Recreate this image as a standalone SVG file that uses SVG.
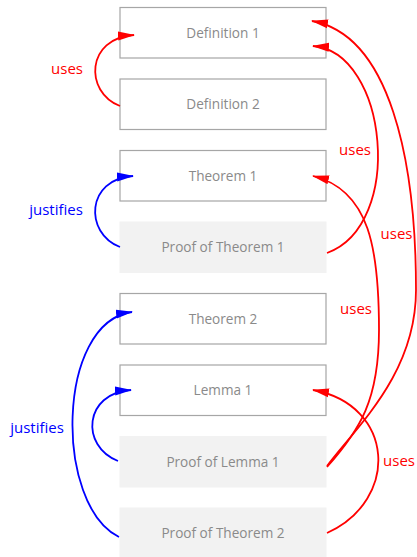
<svg xmlns="http://www.w3.org/2000/svg" width="417" height="557" viewBox="0 0 417 557">
<style>
.box{fill:#fff;stroke:#a6a6a6;stroke-width:1.2}
.proof{fill:#f2f2f2;stroke:none}
.t{font-family:"Open Sans","Liberation Sans",sans-serif;font-size:13.6px;fill:#8a8a8a;text-anchor:middle}
.lbl{font-family:"Open Sans","Liberation Sans",sans-serif;font-size:15px;text-anchor:middle}
.red{fill:#ff0000}
.blue{fill:#0000ff}
.cr{fill:none;stroke:#ff0000;stroke-width:1.8}
.cb{fill:none;stroke:#0000ff;stroke-width:1.8}
</style>
<defs>
<marker id="ar" markerUnits="userSpaceOnUse" markerWidth="17" markerHeight="10" viewBox="0 0 17 10" refX="16" refY="5" orient="auto">
<path d="M0,0.5 L17,5 L0,9.5 z" fill="#ff0000"/>
</marker>
<marker id="ab" markerUnits="userSpaceOnUse" markerWidth="17" markerHeight="10" viewBox="0 0 17 10" refX="16" refY="5" orient="auto">
<path d="M0,0.5 L17,5 L0,9.5 z" fill="#0000ff"/>
</marker>
</defs>
<g id="def1"><rect class="box" x="120" y="7.5" width="206" height="50.5"/><text class="t" x="223" y="37.5">Definition 1</text></g>
<g id="def2"><rect class="box" x="120" y="79" width="206" height="50.5"/><text class="t" x="223" y="109">Definition 2</text></g>
<g id="thm1"><rect class="box" x="120" y="150.5" width="206" height="50.5"/><text class="t" x="223" y="180.5">Theorem 1</text></g>
<g id="proof1"><rect class="proof" x="119.5" y="221.5" width="207" height="51.5"/><text class="t" x="223" y="252">Proof of Theorem 1</text></g>
<g id="thm2"><rect class="box" x="120" y="293.5" width="206" height="50.5"/><text class="t" x="223" y="323.5">Theorem 2</text></g>
<g id="lemma1"><rect class="box" x="120" y="365" width="206" height="50.5"/><text class="t" x="223" y="395">Lemma 1</text></g>
<g id="prooflemma1"><rect class="proof" x="119.5" y="436" width="207" height="51.5"/><text class="t" x="223" y="466.5">Proof of Lemma 1</text></g>
<g id="proof2"><rect class="proof" x="119.5" y="507.5" width="207" height="51.5"/><text class="t" x="223" y="538">Proof of Theorem 2</text></g>
<g id="connectors">
<path class="cr" marker-end="url(#ar)" d="M120,106 C84,92 86,38 134,35"/>
<path class="cb" marker-end="url(#ab)" d="M120,247 C84,233 86,179 133,176"/>
<path class="cb" marker-end="url(#ab)" d="M118,461 C80,446 84,393 131,390"/>
<path class="cb" marker-end="url(#ab)" d="M119,537 C54,505 56,322 132,312"/>
<path class="cr" marker-end="url(#ar)" d="M327,253 C405,225 388,52 313,46"/>
<path class="cr" marker-end="url(#ar)" d="M327,466 C355,428 416,375 416,290 C416,160 390,35 312,21"/>
<path class="cr" marker-end="url(#ar)" d="M327,467 C360,430 379,400 379,330 C379,250 370,190 313,176"/>
<path class="cr" marker-end="url(#ar)" d="M327,533 C400,500 395,405 313,390"/>
<text class="lbl red" x="67" y="74">uses</text>
<text class="lbl blue" x="56" y="215">justifies</text>
<text class="lbl red" x="355" y="155">uses</text>
<text class="lbl red" x="396.5" y="239">uses</text>
<text class="lbl red" x="356" y="314">uses</text>
<text class="lbl blue" x="37" y="433">justifies</text>
<text class="lbl red" x="399" y="466">uses</text>
</g>
</svg>
